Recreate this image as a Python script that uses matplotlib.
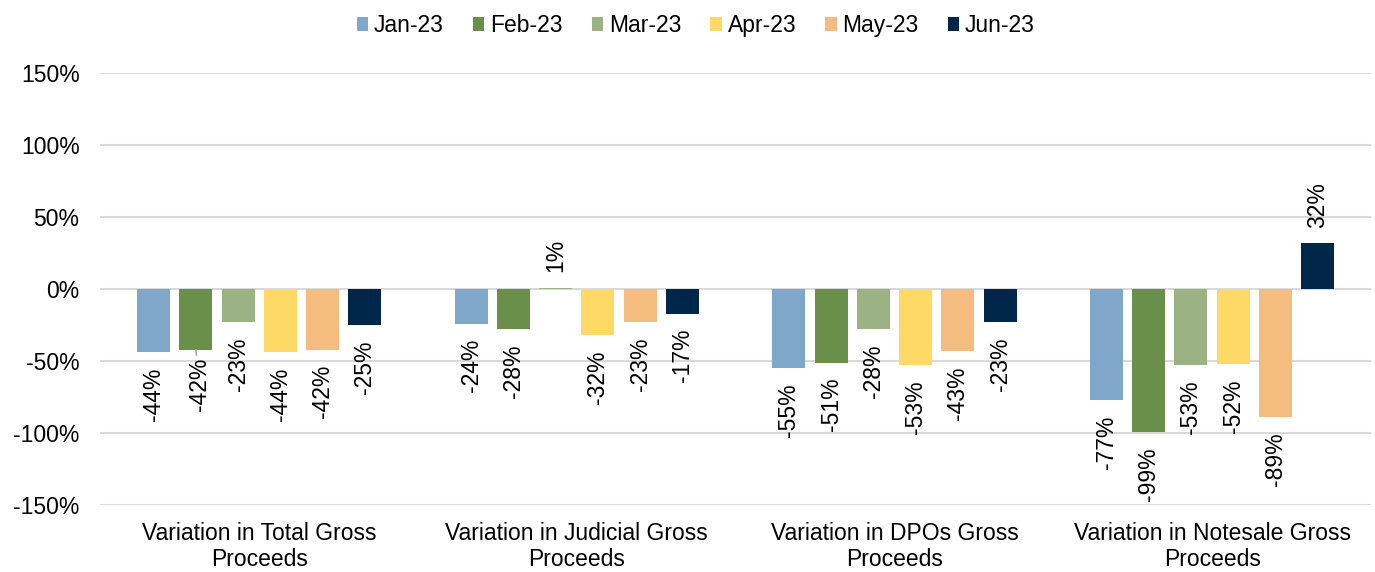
import numpy as np
import matplotlib.pyplot as plt

categories = ["Variation in Total Gross\nProceeds", "Variation in Judicial Gross\nProceeds",
              "Variation in DPOs Gross\nProceeds", "Variation in Notesale Gross\nProceeds"]
months = ["Jan-23", "Feb-23", "Mar-23", "Apr-23", "May-23", "Jun-23"]
jan = [-44, -24, -55, -77]
feb = [-42, -28, -51, -99]
mar = [-23, 1, -28, -53]
apr = [-44, -32, -53, -52]
may = [-42, -23, -43, -89]
jun = [-25, -17, -23, 32]
colors = ["#7fa7c9", "#6a8f4b", "#9bb384", "#ffd966", "#f4bd7f", "#00264a"]

plt.rcParams['font.family'] = ['Liberation Sans', 'DejaVu Sans']
fs = 16.5
fig, ax = plt.subplots(figsize=(13.75, 5.72), dpi=100)
fig.subplots_adjust(left=0.073, right=0.997, top=0.872, bottom=0.117)

series = [jan, feb, mar, apr, may, jun]
x = np.arange(len(categories))
slot = 0.133
width = 0.104
for i, (vals, name, col) in enumerate(zip(series, months, colors)):
    pos = x + (i - 2.5) * slot
    ax.bar(pos, vals, width=width, color=col, label=name, zorder=3)
    for j, (p, v) in enumerate(zip(pos, vals)):
        if v < 0:
            if i == 1 and j == 0:
                # this label sits off its bar with a leader line
                ax.annotate("%d%%" % v, (p, v), xytext=(3, -6), textcoords="offset points",
                            rotation=90, ha="center", va="top", fontsize=fs,
                            arrowprops=dict(arrowstyle="-", color="#a6a6a6", lw=1.2,
                                            shrinkA=0, shrinkB=0))
            else:
                ax.annotate("%d%%" % v, (p, v), xytext=(0, -11), textcoords="offset points",
                            rotation=90, ha="center", va="top", fontsize=fs)
        else:
            ax.annotate("%d%%" % v, (p, v), xytext=(0, 11), textcoords="offset points",
                        rotation=90, ha="center", va="bottom", fontsize=fs)

ax.set_ylim(-150, 150)
ax.set_yticks(np.arange(-150, 151, 50))
ax.set_yticklabels(["%d%%" % t for t in np.arange(-150, 151, 50)], fontsize=fs)
ax.set_xlim(-0.5, 3.5)
ax.set_xticks(x)
ax.set_xticklabels(categories, fontsize=fs, linespacing=1.2)
ax.tick_params(axis="y", length=0, pad=15)
ax.tick_params(axis="x", length=0, pad=12)
ax.grid(axis="y", color="#d9d9d9", linewidth=1.5, zorder=0)
for s in ax.spines.values():
    s.set_visible(False)

fig.legend(*ax.get_legend_handles_labels(), loc="upper center", bbox_to_anchor=(0.506, 1.0),
           ncol=6, frameon=False, fontsize=fs, handlelength=0.5, handleheight=0.55,
           handletextpad=0.25, columnspacing=1.27, borderaxespad=0.2)

fig.savefig("out.png")
